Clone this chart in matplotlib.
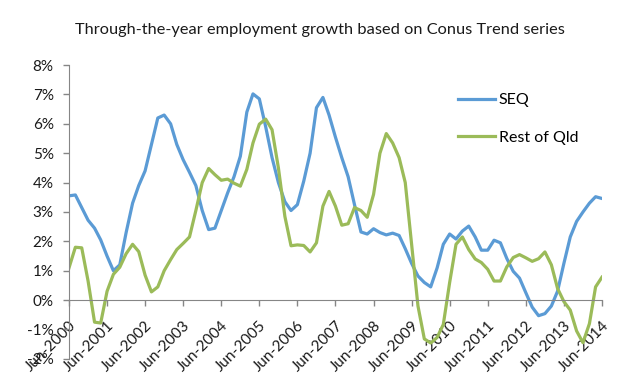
import numpy as np
import pandas as pd
import matplotlib
matplotlib.use('Agg')
import matplotlib.pyplot as plt
import matplotlib.dates as mdates
from matplotlib.ticker import FuncFormatter

plt.rcParams['font.family'] = ['Lato', 'DejaVu Sans']

# bimonthly readings, Jun-2000 .. Jun-2014 (per cent)
dates = pd.date_range('2000-06-01', '2014-06-01', freq='2MS')

seq = [3.55, 3.58, 3.15, 2.72, 2.45, 2.05, 1.5, 1.0, 1.2, 2.3, 3.3, 3.9, 4.4, 5.3, 6.2, 6.3, 6.0,
       5.3, 4.78, 4.35, 3.9, 3.05, 2.4, 2.45, 3.05, 3.65, 4.2, 4.9, 6.4, 7.02, 6.85, 5.9, 4.85, 4.0,
       3.35, 3.05, 3.25, 4.05, 5.0, 6.55, 6.9, 6.3, 5.55, 4.85, 4.2, 3.25, 2.32, 2.25, 2.43, 2.3, 2.22,
       2.28, 2.2, 1.75, 1.25, 0.82, 0.6, 0.45, 1.1, 1.9, 2.25, 2.08, 2.35, 2.52, 2.15, 1.7, 1.7, 2.04,
       1.95, 1.42, 0.98, 0.75, 0.25, -0.24, -0.53, -0.46, -0.2, 0.3, 1.25, 2.15, 2.68, 3.0, 3.3, 3.52, 3.46]

rest_qld = [1.1, 1.8, 1.78, 0.65, -0.75, -0.78, 0.3, 0.88, 1.12, 1.58, 1.9, 1.65, 0.85, 0.28, 0.45, 1.0, 1.38,
            1.72, 1.93, 2.15, 3.05, 4.0, 4.48, 4.27, 4.08, 4.12, 3.98, 3.88, 4.45, 5.35, 5.99, 6.16, 5.8, 4.5,
            2.85, 1.85, 1.88, 1.86, 1.64, 1.95, 3.2, 3.7, 3.2, 2.55, 2.6, 3.15, 3.05, 2.82, 3.6, 5.0, 5.67,
            5.35, 4.85, 4.0, 1.9, -0.2, -1.32, -1.46, -1.27, -0.83, 0.6, 1.9, 2.15, 1.72, 1.4, 1.28, 1.05, 0.65,
            0.65, 1.13, 1.45, 1.55, 1.44, 1.32, 1.41, 1.64, 1.2, 0.4, -0.05, -0.34, -1.05, -1.45, -0.8, 0.45, 0.78]

tick_years = list(range(2000, 2015))
tick_labels = ['Jun-%d' % y for y in tick_years]

x = mdates.date2num(dates.to_pydatetime())
xticks = mdates.date2num(pd.to_datetime(['%d-06-01' % y for y in tick_years]).to_pydatetime())

fig = plt.figure(figsize=(6.39, 3.83), dpi=100)
ax = fig.add_axes([0.108, 0.063, 0.834, 0.767])

ax.plot(x, seq, color='#5B9BD5', lw=2.3, label='SEQ', solid_joinstyle='round')
ax.plot(x, rest_qld, color='#9BBB59', lw=2.3, label='Rest of Qld', solid_joinstyle='round')

for s in ['top', 'right']:
    ax.spines[s].set_visible(False)
ax.spines['bottom'].set_position(('data', 0))
ax.spines['left'].set_color('#868686')
ax.spines['bottom'].set_color('#868686')

ax.set_ylim(-2, 8)
ax.set_xlim(x[0], x[-1])
ax.set_yticks(range(-2, 9))
ax.yaxis.set_major_formatter(FuncFormatter(lambda v, p: '%d%%' % v))

ax.set_xticks(xticks)
ax.set_xticklabels(tick_labels)
ax.tick_params(axis='both', colors='#868686', labelcolor='#1a1a1a',
               length=4, width=1, labelsize=11)
ax.tick_params(axis='x', pad=9, labelrotation=45)
ax.tick_params(axis='y', pad=7)
plt.setp(ax.get_xticklabels(), ha='right', rotation_mode='anchor')

ax.legend(loc='upper left', bbox_to_anchor=(0.73, 0.905), borderpad=0, borderaxespad=0,
          handlelength=2.3, handletextpad=0.25, labelspacing=1.45, frameon=False, fontsize=11.5)

fig.text(0.5, 1 - 30 / 383, 'Through-the-year employment growth based on Conus Trend series',
         ha='center', va='center', fontsize=11.8, color='#1a1a1a')

fig.savefig('out.png', dpi=100)
